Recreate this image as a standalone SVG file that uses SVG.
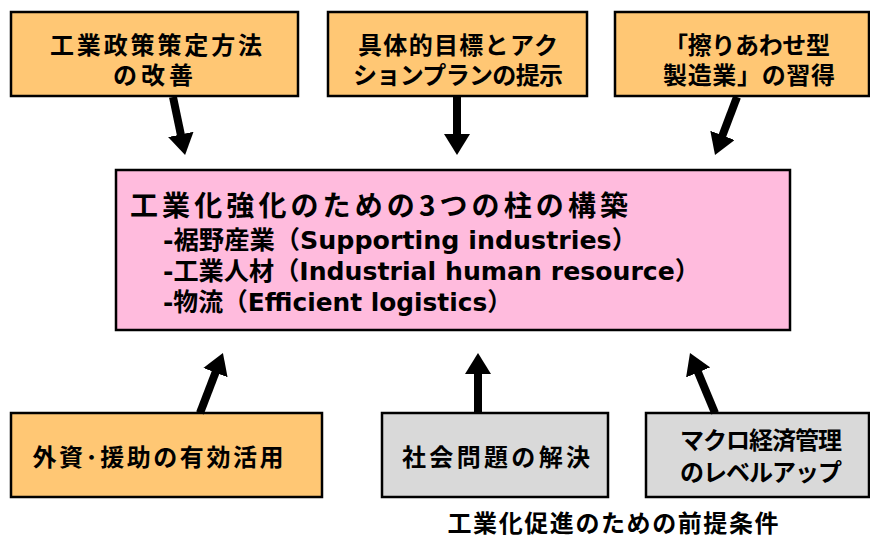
<svg xmlns="http://www.w3.org/2000/svg" width="870" height="539" viewBox="0 0 870 539">
<style>
.box{stroke:#000;stroke-width:2.5}
.org{fill:#FFC774}
.pink{fill:#FFBBDD}
.gray{fill:#D9D9D9}
text{font-family:"Noto Sans CJK JP","DejaVu Sans",sans-serif;font-weight:bold;fill:#000}
.c{text-anchor:middle;font-size:24px}
.lat{font-family:"DejaVu Sans","Noto Sans CJK JP",sans-serif;font-size:25px}
.arr{stroke:#000;stroke-width:8;fill:none}
</style>
<defs>
<marker id="ah" markerUnits="userSpaceOnUse" markerWidth="22" markerHeight="26" viewBox="0 0 22 26" refX="1" refY="13" orient="auto">
<path d="M0,0 L21,13 L0,26 z" fill="#000"/>
</marker>
</defs>
<rect width="870" height="539" fill="#fff"/>
<g id="n1">
<rect class="box org" x="11" y="12" width="287" height="84"/>
<text class="c" x="156" y="54" textLength="212">工業政策策定方法</text>
<text class="c" x="153" y="84" textLength="80">の改善</text>
</g>
<g id="n2">
<rect class="box org" x="328" y="12" width="259" height="84"/>
<text class="c" x="458" y="54" textLength="200">具体的目標とアク</text>
<text class="c" x="458" y="84" textLength="210">ションプランの提示</text>
</g>
<g id="n3">
<rect class="box org" x="615" y="12" width="254" height="84"/>
<text class="c" x="747" y="54" textLength="166">「擦りあわせ型</text>
<text class="c" x="749" y="84" textLength="172">製造業」の習得</text>
</g>
<g id="center">
<rect class="box pink" x="116" y="170" width="674" height="160"/>
<text x="130" y="216" font-size="28" textLength="498">工業化強化のための3つの柱の構築</text>
<text class="lat" x="163" y="249" textLength="474" lengthAdjust="spacingAndGlyphs">-裾野産業（Supporting industries）</text>
<text class="lat" x="163" y="280" textLength="537" lengthAdjust="spacingAndGlyphs">-工業人材（Industrial human resource）</text>
<text class="lat" x="163" y="311" textLength="349" lengthAdjust="spacingAndGlyphs">-物流（Efficient logistics）</text>
</g>
<g id="n4">
<rect class="box org" x="11" y="413" width="311" height="84"/>
<text class="c" x="158" y="466" textLength="251">外資･援助の有効活用</text>
</g>
<g id="n5">
<rect class="box gray" x="382" y="413" width="226" height="84"/>
<text class="c" x="496" y="466" textLength="188">社会問題の解決</text>
</g>
<g id="n6">
<rect class="box gray" x="646" y="413" width="223" height="84"/>
<text class="c" x="761" y="449" textLength="162">マクロ経済管理</text>
<text class="c" x="761" y="481" textLength="162">のレベルアップ</text>
</g>
<text id="footer" class="c" x="613" y="532" textLength="331">工業化促進のための前提条件</text>
<g id="connectors">
<line class="arr" x1="173" y1="97" x2="181" y2="135.4" marker-end="url(#ah)"/>
<line class="arr" x1="457" y1="97" x2="457" y2="135" marker-end="url(#ah)"/>
<line class="arr" x1="737" y1="97" x2="722.1" y2="136.3" marker-end="url(#ah)"/>
<line class="arr" x1="200" y1="413" x2="215.8" y2="371.7" marker-end="url(#ah)"/>
<line class="arr" x1="478" y1="413" x2="478" y2="373" marker-end="url(#ah)"/>
<line class="arr" x1="715" y1="413" x2="697.7" y2="371.5" marker-end="url(#ah)"/>
</g>
</svg>
